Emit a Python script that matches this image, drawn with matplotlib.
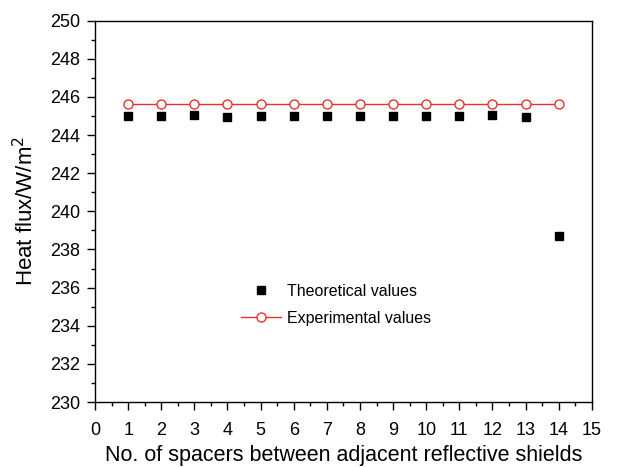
import numpy as np
import matplotlib
matplotlib.use("Agg")
import matplotlib.pyplot as plt
from matplotlib.ticker import MultipleLocator

plt.rcParams['font.family'] = ['Liberation Sans', 'DejaVu Sans']

# data
spacers_theo = [1, 2, 3, 4, 5, 6, 7, 8, 9, 10, 11, 12, 13, 14]
flux_theo = [245.0, 245.0, 245.05, 244.97, 245.0, 245.0, 245.0, 245.0, 244.98,
             245.0, 244.99, 245.05, 244.97, 238.7]
spacers_exp = [1, 2, 3, 4, 5, 6, 7, 8, 9, 10, 11, 12, 13, 14]
flux_exp = [245.6] * 14

fig = plt.figure(figsize=(6.21, 4.67), dpi=100)
ax = fig.add_axes([0.153, 0.139, 0.800, 0.817])

ax.plot(spacers_theo, flux_theo, 's', color='black', markersize=6,
        linestyle='none', label='Theoretical values')
ax.plot(spacers_exp, flux_exp, '-o', color='#e8332a', markerfacecolor='white',
        markeredgecolor='#e8332a', markersize=6.5, linewidth=1,
        label='Experimental values')

ax.set_xlim(0, 15)
ax.set_ylim(230, 250)
ax.xaxis.set_major_locator(MultipleLocator(1))
ax.xaxis.set_minor_locator(MultipleLocator(0.5))
ax.yaxis.set_major_locator(MultipleLocator(2))
ax.yaxis.set_minor_locator(MultipleLocator(1))
ax.tick_params(which='both', direction='out', top=False, right=False,
               labelsize=13, width=1)
ax.tick_params(which='major', length=5.5)
ax.tick_params(which='minor', length=3)
ax.tick_params(axis='x', which='major', pad=9)
ax.tick_params(axis='y', which='major', pad=5)
for s in ax.spines.values():
    s.set_linewidth(1)

ax.set_xlabel('No. of spacers between adjacent reflective shields', fontsize=15.5)
ax.set_ylabel('Heat flux/W/m$^2$', fontsize=16)
ax.xaxis.set_label_coords(0.5, -0.112)
ax.yaxis.set_label_coords(-0.115, 0.5)

ax.legend(loc='upper left', bbox_to_anchor=(0.294, 0.31), frameon=False,
          fontsize=11.5, handlelength=2.5, handletextpad=0.37,
          labelspacing=0.75, borderpad=0, borderaxespad=0)

fig.savefig('out.png', dpi=100)
